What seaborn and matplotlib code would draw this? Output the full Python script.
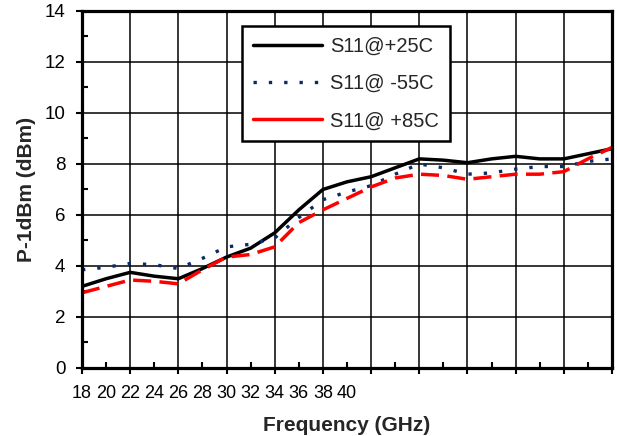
import numpy as np
import pandas as pd
import seaborn as sns
import matplotlib
matplotlib.use("Agg")
import matplotlib.pyplot as plt
from matplotlib.ticker import MultipleLocator, FuncFormatter

# 頻率 (GHz)
freq = list(range(18, 41))

# P-1dB 數據 (dBm)
p1db_25c = [3.2, 3.5, 3.75, 3.6, 3.5, 3.9, 4.35, 4.7, 5.3, 6.2, 7.0, 7.3, 7.5, 7.85, 8.2,
            8.15, 8.05, 8.2, 8.3, 8.2, 8.2, 8.4, 8.6]
p1db_m55c = [3.85, 3.95, 4.1, 4.05, 3.9, 4.3, 4.75, 4.85, 5.1, 5.9, 6.6, 6.9, 7.15, 7.6, 8.0,
             7.85, 7.6, 7.65, 7.8, 7.9, 7.9, 8.1, 8.2]
p1db_85c = [2.95, 3.2, 3.45, 3.4, 3.3, 3.85, 4.35, 4.45, 4.75, 5.7, 6.2, 6.65, 7.1, 7.45, 7.6,
            7.55, 7.4, 7.5, 7.6, 7.6, 7.7, 8.2, 8.65]

labels = ["S11@+25C", "S11@ -55C", "S11@ +85C"]

df = pd.DataFrame({
    "freq": freq * 3,
    "p1db": p1db_25c + p1db_m55c + p1db_85c,
    "series": [labels[0]] * len(freq) + [labels[1]] * len(freq) + [labels[2]] * len(freq),
})

sns.set_style("white")
plt.rcParams["font.family"] = ["Liberation Sans", "DejaVu Sans"]

fig = plt.figure(figsize=(6.17, 4.36), dpi=100)
ax = fig.add_axes([0.1329, 0.156, 0.859, 0.8188])

styles = {
    labels[0]: dict(color="black", lw=2.5, ls="-"),
    labels[1]: dict(color="#0b2a66", lw=2.4, ls=(0, (1, 3.6))),
    labels[2]: dict(color="#ff0000", lw=2.5, ls=(0, (5.2, 2.4))),
}
for name in labels:
    s = styles[name]
    sns.lineplot(data=df[df["series"] == name], x="freq", y="p1db", ax=ax,
                 color=s["color"], linewidth=s["lw"], linestyle=s["ls"], label=name)

ax.set_xlim(18, 40)
ax.set_ylim(0, 14)
ax.xaxis.set_major_locator(MultipleLocator(2))
ax.xaxis.set_minor_locator(MultipleLocator(1))
ax.yaxis.set_major_locator(MultipleLocator(2))
ax.yaxis.set_minor_locator(MultipleLocator(1))

# x 軸標籤照原圖擺放 (每個小刻度一個標籤)
def xfmt(p, pos):
    if p <= 29.01:
        return str(int(round(18 + 2 * (p - 18))))
    return ""

ax.xaxis.set_major_formatter(FuncFormatter(xfmt))
ax.xaxis.set_minor_formatter(FuncFormatter(xfmt))
ax.yaxis.set_major_formatter(FuncFormatter(lambda v, pos: f"{int(v)}"))

ax.tick_params(axis="both", which="major", direction="out", length=4.5, width=1.5,
               labelsize=13.5, pad=7.5, colors="black")
ax.tick_params(axis="x", which="minor", direction="in", length=4, width=1.5,
               labelsize=13, pad=12, colors="black")
ax.tick_params(axis="x", which="major", labelsize=13)
ax.tick_params(axis="y", which="minor", direction="in", length=4, width=1.5, colors="black")
ax.tick_params(axis="x", which="both", bottom=True)
ax.tick_params(axis="y", which="both", left=True)

ax.grid(True, which="major", color="black", linewidth=1.1)
ax.set_axisbelow(True)
for sp in ax.spines.values():
    sp.set_color("black")
    sp.set_linewidth(2.3)

ax.set_xlabel("Frequency (GHz)", fontsize=15, fontweight="bold", labelpad=10)
ax.set_ylabel("P-1dBm (dBm)", fontsize=15, fontweight="bold", labelpad=6)

leg = ax.legend(loc="upper left", bbox_to_anchor=(0.302, 0.958), fontsize=14.5,
                frameon=True, fancybox=False, shadow=False, handlelength=3.4,
                labelspacing=0.9, borderpad=0.55, handletextpad=0.4, borderaxespad=0)
leg.get_frame().set_edgecolor("black")
leg.get_frame().set_linewidth(1.8)
leg.get_frame().set_alpha(1)
leg.get_lines()[2].set_linestyle("-")

fig.savefig("out.png", dpi=100)
